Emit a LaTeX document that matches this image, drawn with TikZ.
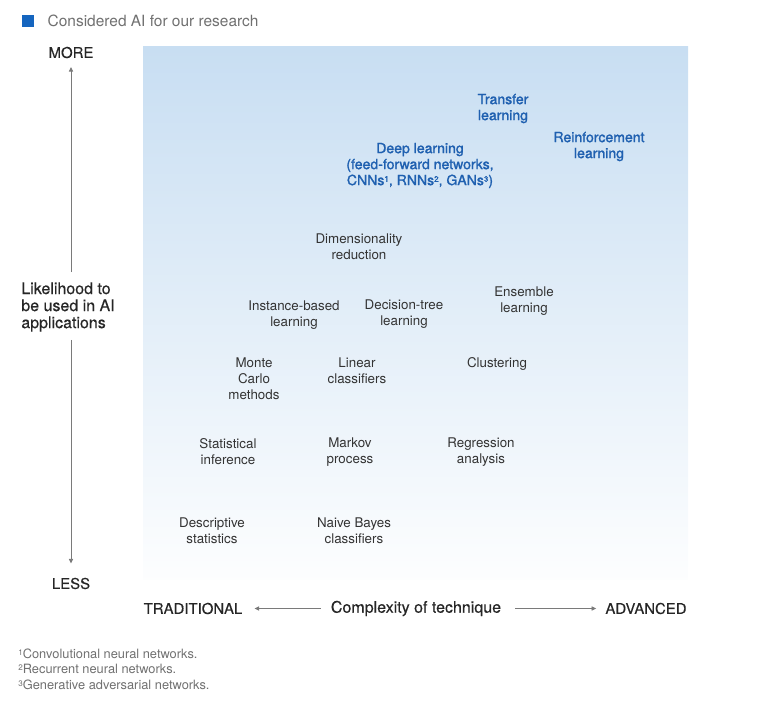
\documentclass[tikz,border=0pt]{standalone}
\usepackage{fontspec}
\setmainfont{TeX Gyre Heros}
\newfontfamily\heromed[FakeBold=0.35]{TeX Gyre Heros}
\newfontfamily\herosemi[FakeBold=1.5]{TeX Gyre Heros}
\usepackage{tikz}
\usetikzlibrary{arrows.meta,positioning,calc}
\definecolor{aiblue}{HTML}{1F60B0}
\definecolor{keyblue}{HTML}{1565BF}
\definecolor{skytop}{HTML}{C8DEF2}
\definecolor{inkgray}{HTML}{333333}
\definecolor{notegray}{HTML}{707070}
\definecolor{axisgray}{HTML}{7A7A7A}
\newcommand{\fnmark}[1]{\raisebox{0.45ex}{\fontsize{4.6}{5}\selectfont #1}}
\tikzset{
  >={Triangle[length=2.6pt,width=2.4pt]},
  % techniques
  tech/.style={align=center,inner sep=0pt,text=inkgray,
               font=\fontsize{7.6}{9.1}\selectfont},
  aitech/.style={tech,text=aiblue,font=\herosemi\fontsize{8.0}{9.1}\selectfont},
  % axes
  axend/.style={inner sep=0pt,text=black!85,font=\heromed\fontsize{8.5}{10}\selectfont},
  axtitle/.style={inner sep=0pt,text=black!85,font=\heromed\fontsize{9.1}{9.7}\selectfont},
  axarr/.style={->,draw=axisgray,line width=0.5pt},
  % legend and notes
  keybox/.style={fill=keyblue,inner sep=0pt,minimum size=2.4mm},
  note/.style={anchor=west,inner sep=0pt,text=notegray,
               font=\fontsize{7.3}{8.8}\selectfont},
}
\begin{document}
\begin{tikzpicture}[x=0.02cm,y=-0.02cm]
  \useasboundingbox (0,0) rectangle (779,702);
  \shade[top color=skytop,bottom color=skytop!4] (143,47) rectangle (688,580);
  \node[keybox] (key) at (28,21) {};
  \node[note,font=\fontsize{8.8}{10}\selectfont,right=2.6mm of key] (keytext) {Considered AI for our research};
  \node[aitech] (transfer) at (503,108.5) {Transfer\\learning};
  \node[aitech] (reinf) at (599,146.5) {Reinforcement\\learning};
  \node[aitech] (deep) at (420,165.5) {Deep learning\\(feed-forward networks,\\CNNs\fnmark{1}, RNNs\fnmark{2}, GANs\fnmark{3})};
  \node[tech] (dimred) at (359,247) {Dimensionality\\reduction};
  \node[tech] (instance) at (294,315) {Instance-based\\learning};
  \node[tech] (dtree) at (404,314) {Decision-tree\\learning};
  \node[tech] (ensemble) at (524,301) {Ensemble\\learning};
  \node[tech] (monte) at (254,379) {Monte\\Carlo\\methods};
  \node[tech] (linear) at (357,371) {Linear\\classifiers};
  \node[tech] (cluster) at (497,364) {Clustering};
  \node[tech] (statinf) at (228,452) {Statistical\\inference};
  \node[tech] (markov) at (350,452) {Markov\\process};
  \node[tech] (regress) at (481,452) {Regression\\analysis};
  \node[tech] (descr) at (212,531) {Descriptive\\statistics};
  \node[tech] (bayes) at (354,531) {Naive Bayes\\classifiers};
  \node[axend] (more) at (71,52.5) {MORE};
  \node[axend] (less) at (71,583.5) {LESS};
  \node[axtitle,align=left] (lik) at (68,307) {Likelihood to\\be used in AI\\applications};
  \node[axend] (trad) at (193,608.5) {TRADITIONAL};
  \node[axend] (adv) at (646,608.5) {ADVANCED};
  \node[axtitle] (cplx) at (416,608.5) {Complexity of technique};
  \draw[axarr,shorten <=2mm,shorten >=1.7mm] (lik.north -| more.south) -- (more.south);
  \draw[axarr,shorten <=1.6mm,shorten >=2.8mm] (lik.south -| less.north) -- (less.north);
  \draw[axarr,shorten <=2mm,shorten >=2.4mm] (cplx.west) -- (trad.east);
  \draw[axarr,shorten <=2.8mm,shorten >=1.8mm] (cplx.east) -- (adv.west);
  \node[note] (fn1) at (18,653.5) {\fnmark{1}Convolutional neural networks.};
  \node[note] (fn2) at (18,669) {\fnmark{2}Recurrent neural networks.};
  \node[note] (fn3) at (18,684.5) {\fnmark{3}Generative adversarial networks.};
\end{tikzpicture}
\end{document}
